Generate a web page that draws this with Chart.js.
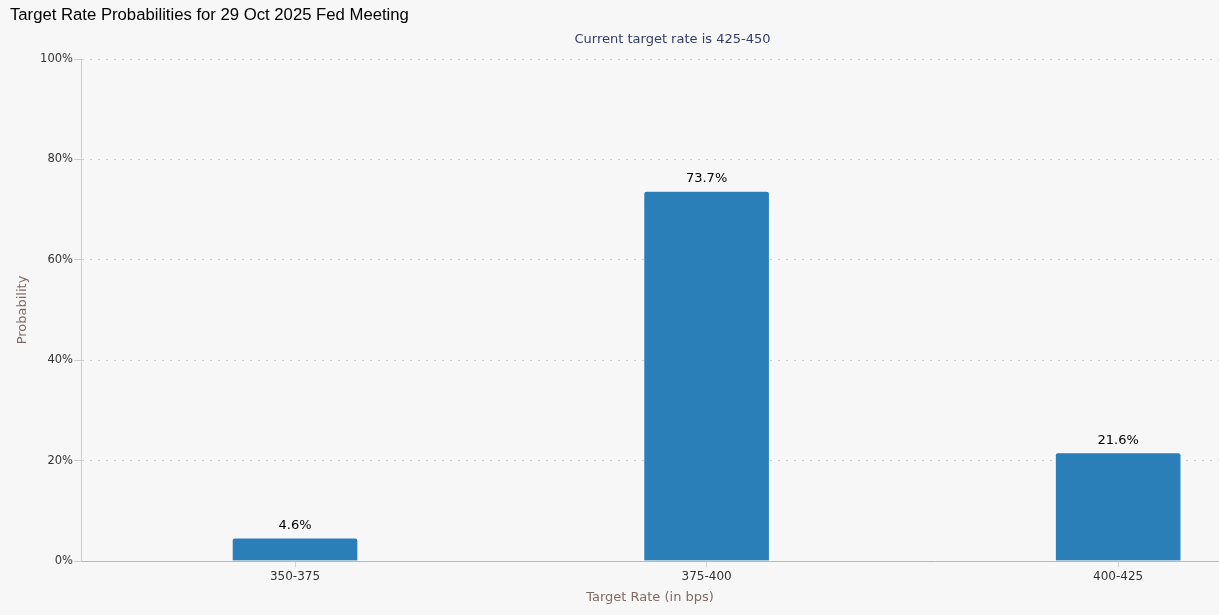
<!DOCTYPE html>
<html>
<head>
<meta charset="utf-8">
<script src="https://cdn.jsdelivr.net/npm/chart.js@4.4.1/dist/chart.umd.min.js"></script>
<style>
  html, body { margin: 0; padding: 0; background: #f7f7f7; }
  #wrap { width: 1219px; height: 615px; }
</style>
</head>
<body>
<div id="wrap"><canvas id="rateChart" width="1219" height="615"></canvas></div>
<script>
// Chart data
const categories = ['350-375', '375-400', '400-425'];
const probabilities = [4.6, 73.7, 21.6];
const yTicks = [0, 20, 40, 60, 80, 100];

const titleText = 'Target Rate Probabilities for 29 Oct 2025 Fed Meeting';
const subtitleText = 'Current target rate is 425-450';

// Paint the page background on the canvas
const backgroundPlugin = {
    id: 'background',
    beforeDraw(chart) {
        const ctx = chart.ctx;
        ctx.save();
        ctx.fillStyle = '#f7f7f7';
        ctx.fillRect(0, 0, chart.width, chart.height);
        ctx.restore();
    }
};

// Subtitle is centred on the original (wider) chart, not on the canvas
const subtitlePlugin = {
    id: 'offsetSubtitle',
    afterDraw(chart) {
        const ctx = chart.ctx;
        ctx.save();
        ctx.font = '13px "DejaVu Sans"';
        ctx.fillStyle = '#333d66';
        ctx.textAlign = 'center';
        ctx.textBaseline = 'middle';
        ctx.fillText(subtitleText, 672.5, 39.5);
        ctx.restore();
    }
};

// Value labels above each bar
const valueLabels = {
    id: 'valueLabels',
    afterDatasetsDraw(chart) {
        const ctx = chart.ctx;
        const meta = chart.getDatasetMeta(0);
        ctx.save();
        ctx.font = '13px "DejaVu Sans"';
        ctx.fillStyle = '#000';
        ctx.textAlign = 'center';
        ctx.textBaseline = 'middle';
        meta.data.forEach((bar, i) => {
            ctx.fillText(probabilities[i].toFixed(1) + '%', bar.x, bar.y - 12);
        });
        ctx.restore();
    }
};

const ctx = document.getElementById('rateChart').getContext('2d');
new Chart(ctx, {
    type: 'bar',
    data: {
        datasets: [{
            data: probabilities.map((v, i) => ({ x: i, y: v })),
            backgroundColor: '#2a7fb8',
            borderColor: 'rgba(255,255,255,0.55)',
            borderWidth: 1,
            borderRadius: { topLeft: 3, topRight: 3 },
            borderSkipped: 'bottom',
            barThickness: 126
        }]
    },
    options: {
        responsive: false,
        animation: false,
        layout: { padding: { left: 10, right: 0, top: 0, bottom: 0 } },
        plugins: {
            legend: { display: false },
            tooltip: { enabled: false },
            title: {
                display: true,
                text: titleText,
                align: 'start',
                color: '#000',
                font: { family: '"Liberation Sans", Arial', size: 16.7, weight: 'normal', lineHeight: 1.2 },
                padding: { top: 5, bottom: 33.96 }
            }
        },
        scales: {
            x: {
                type: 'linear',
                offset: false,
                min: -0.52,
                max: 2.245,
                afterBuildTicks(scale) {
                    scale.ticks = categories.map((c, i) => ({ value: i }));
                },
                afterFit(scale) { scale.height = 54; },
                ticks: {
                    color: '#333',
                    font: { family: '"DejaVu Sans"', size: 12 },
                    padding: 3,
                    callback: value => categories[value]
                },
                grid: {
                    offset: false,
                    drawOnChartArea: false,
                    drawTicks: true,
                    tickLength: 6,
                    tickColor: '#d0d0d0'
                },
                border: { display: true, color: '#b8b8b8', width: 1 },
                title: {
                    display: true,
                    text: 'Target Rate (in bps)',
                    color: '#806a66',
                    font: { family: '"DejaVu Sans"', size: 13, lineHeight: 1.2 },
                    padding: { top: 0, bottom: 10 }
                }
            },
            y: {
                min: 0,
                max: 100,
                afterBuildTicks(scale) {
                    scale.ticks = yTicks.map(v => ({ value: v }));
                },
                afterFit(scale) { scale.width = 71; },
                ticks: {
                    color: '#333',
                    font: { family: '"DejaVu Sans"', size: 11.5 },
                    padding: 1,
                    callback: value => value + '%'
                },
                grid: {
                    color: '#cfcfcf',
                    lineWidth: 1,
                    drawTicks: true,
                    tickLength: 7,
                    tickColor: '#cccccc'
                },
                border: { display: true, color: '#cccccc', width: 1, dash: [2, 6] },
                title: {
                    display: true,
                    text: 'Probability',
                    color: '#806a66',
                    font: { family: '"DejaVu Sans"', size: 13, lineHeight: 1.2 },
                    padding: { top: 5, bottom: 0 }
                }
            }
        }
    },
    plugins: [backgroundPlugin, subtitlePlugin, valueLabels]
});
</script>
</body>
</html>
